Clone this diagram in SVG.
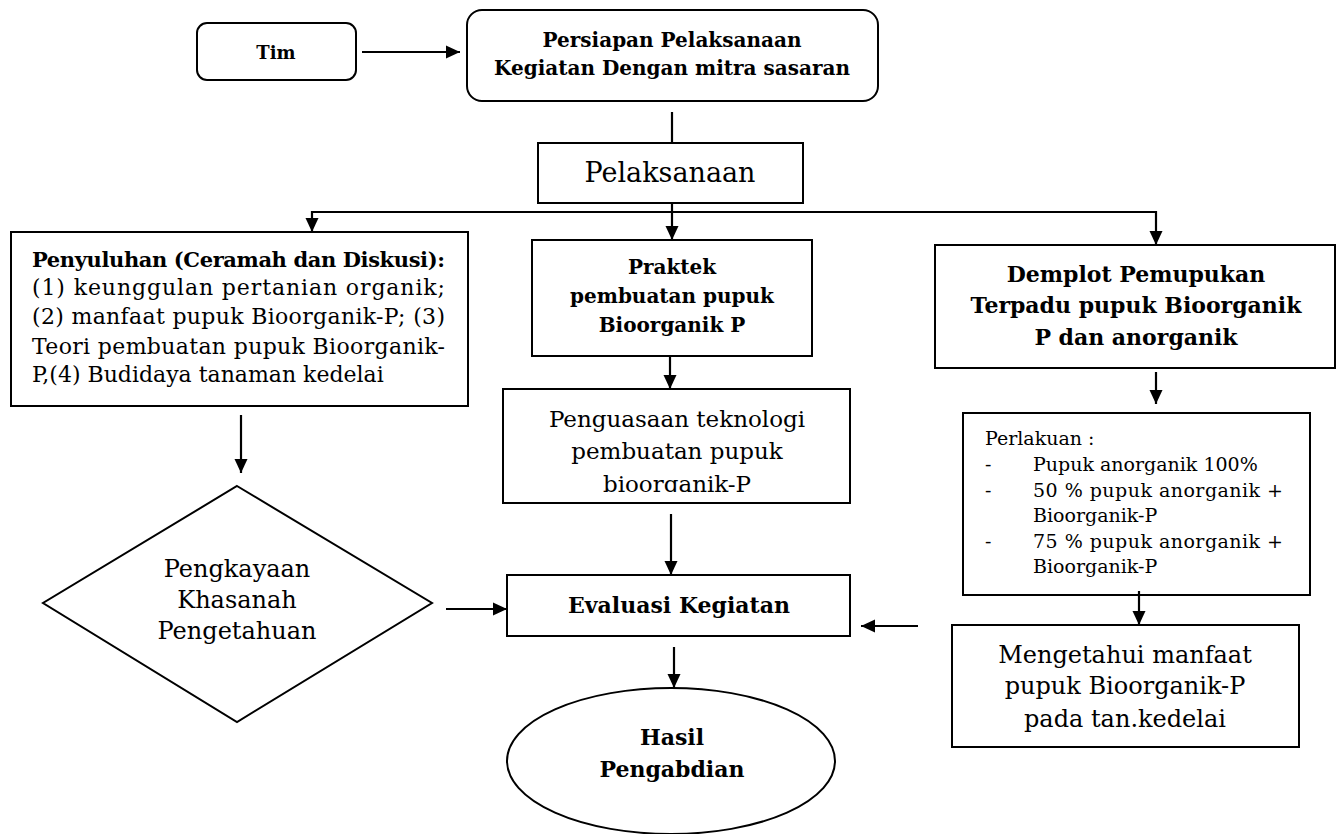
<svg xmlns="http://www.w3.org/2000/svg" width="1337" height="834" viewBox="0 0 1337 834">
<style>
.box{fill:#fff;stroke:#000;stroke-width:2}
.t{font-family:"DejaVu Serif","Liberation Serif",serif;fill:#000}
.b{font-weight:bold}
.c{text-anchor:middle}
.ln{fill:none;stroke:#000;stroke-width:2.2}
</style>
<defs>
<marker id="ah" viewBox="0 0 14 14" refX="14" refY="7" markerWidth="14" markerHeight="14" markerUnits="userSpaceOnUse" orient="auto">
<path d="M0,0.5 L14,7 L0,13.5 Z" fill="#000"/>
</marker>
<clipPath id="clipPeng"><rect x="503" y="389" width="347" height="103"/></clipPath>
</defs>
<rect width="1337" height="834" fill="#fff"/>

<g id="tim">
<rect class="box" x="197" y="23" width="159" height="57" rx="10"/>
<text class="t b c" x="276" y="59" font-size="18">Tim</text>
</g>

<g id="persiapan">
<rect class="box" x="467" y="10" width="411" height="91" rx="15"/>
<text class="t b c" x="672" y="47" font-size="20">Persiapan Pelaksanaan</text>
<text class="t b c" x="672" y="75" font-size="20">Kegiatan Dengan mitra sasaran</text>
</g>

<g id="pelaksanaan">
<rect class="box" x="538" y="143" width="265" height="60"/>
<text class="t c" x="670" y="182" font-size="27">Pelaksanaan</text>
</g>

<g id="penyuluhan">
<rect class="box" x="11" y="232" width="457" height="174"/>
<text class="t b" x="32" y="267" font-size="21" textLength="413" lengthAdjust="spacing">Penyuluhan (Ceramah dan Diskusi):</text>
<text class="t" x="32" y="295" font-size="22" textLength="413" lengthAdjust="spacing">(1) keunggulan pertanian organik;</text>
<text class="t" x="32" y="324" font-size="22" textLength="413" lengthAdjust="spacing">(2) manfaat pupuk Bioorganik-P; (3)</text>
<text class="t" x="32" y="354" font-size="22" textLength="413" lengthAdjust="spacing">Teori pembuatan pupuk Bioorganik-</text>
<text class="t" x="32" y="382" font-size="22">P,(4) Budidaya tanaman kedelai</text>
</g>

<g id="praktek">
<rect class="box" x="532" y="240" width="280" height="116"/>
<text class="t b c" x="672" y="274" font-size="20">Praktek</text>
<text class="t b c" x="672" y="303" font-size="20">pembuatan pupuk</text>
<text class="t b c" x="672" y="332" font-size="20">Bioorganik P</text>
</g>

<g id="penguasaan">
<rect class="box" x="503" y="389" width="347" height="114"/>
<g clip-path="url(#clipPeng)">
<text class="t c" x="677" y="427" font-size="23">Penguasaan teknologi</text>
<text class="t c" x="677" y="459" font-size="23">pembuatan pupuk</text>
<text class="t c" x="677" y="492" font-size="23">bioorganik-P</text>
</g>
</g>

<g id="demplot">
<rect class="box" x="935" y="245" width="400" height="123"/>
<text class="t b c" x="1136" y="282" font-size="22">Demplot Pemupukan</text>
<text class="t b c" x="1136" y="313" font-size="22">Terpadu pupuk Bioorganik</text>
<text class="t b c" x="1136" y="345" font-size="22">P dan anorganik</text>
</g>

<g id="perlakuan">
<rect class="box" x="963" y="413" width="347" height="182"/>
<text class="t" x="985" y="445" font-size="19">Perlakuan :</text>
<text class="t" x="985" y="471" font-size="19">-</text>
<text class="t" x="1033" y="471" font-size="19">Pupuk anorganik 100%</text>
<text class="t" x="985" y="497" font-size="19">-</text>
<text class="t" x="1033" y="497" font-size="19" textLength="250" lengthAdjust="spacing">50 % pupuk anorganik +</text>
<text class="t" x="1033" y="522" font-size="19">Bioorganik-P</text>
<text class="t" x="985" y="548" font-size="19">-</text>
<text class="t" x="1033" y="548" font-size="19" textLength="250" lengthAdjust="spacing">75 % pupuk anorganik +</text>
<text class="t" x="1033" y="573" font-size="19">Bioorganik-P</text>
</g>

<g id="mengetahui">
<rect class="box" x="952" y="625" width="347" height="122"/>
<text class="t c" x="1125" y="663" font-size="24">Mengetahui manfaat</text>
<text class="t c" x="1125" y="694" font-size="24">pupuk Bioorganik-P</text>
<text class="t c" x="1125" y="727" font-size="24">pada tan.kedelai</text>
</g>

<g id="pengkayaan">
<polygon class="box" points="237,486 432,603 237,722 43,603"/>
<text class="t c" x="237" y="577" font-size="24">Pengkayaan</text>
<text class="t c" x="237" y="608" font-size="24">Khasanah</text>
<text class="t c" x="237" y="639" font-size="24">Pengetahuan</text>
</g>

<g id="evaluasi">
<rect class="box" x="507" y="575" width="343" height="61"/>
<text class="t b c" x="679" y="613" font-size="22">Evaluasi Kegiatan</text>
</g>

<g id="hasil">
<ellipse class="box" cx="671" cy="761" rx="164" ry="73"/>
<text class="t b c" x="672" y="745" font-size="22">Hasil</text>
<text class="t b c" x="672" y="777" font-size="22">Pengabdian</text>
</g>

<g id="connectors">
<line class="ln" x1="362" y1="52" x2="460" y2="52" marker-end="url(#ah)"/>
<line class="ln" x1="672" y1="112" x2="672" y2="143"/>
<line class="ln" x1="672" y1="203" x2="672" y2="240" marker-end="url(#ah)"/>
<line class="ln" x1="312" y1="212" x2="1156" y2="212"/>
<line class="ln" x1="312" y1="211" x2="312" y2="232" marker-end="url(#ah)"/>
<line class="ln" x1="1156" y1="211" x2="1156" y2="245" marker-end="url(#ah)"/>
<line class="ln" x1="670" y1="356" x2="670" y2="389" marker-end="url(#ah)"/>
<line class="ln" x1="1156" y1="372" x2="1156" y2="404" marker-end="url(#ah)"/>
<line class="ln" x1="1139" y1="591" x2="1139" y2="625" marker-end="url(#ah)"/>
<line class="ln" x1="241" y1="415" x2="241" y2="473" marker-end="url(#ah)"/>
<line class="ln" x1="446" y1="609" x2="507" y2="609" marker-end="url(#ah)"/>
<line class="ln" x1="671" y1="514" x2="671" y2="575" marker-end="url(#ah)"/>
<line class="ln" x1="918" y1="626" x2="861" y2="626" marker-end="url(#ah)"/>
<line class="ln" x1="674" y1="647" x2="674" y2="688" marker-end="url(#ah)"/>
</g>
</svg>
